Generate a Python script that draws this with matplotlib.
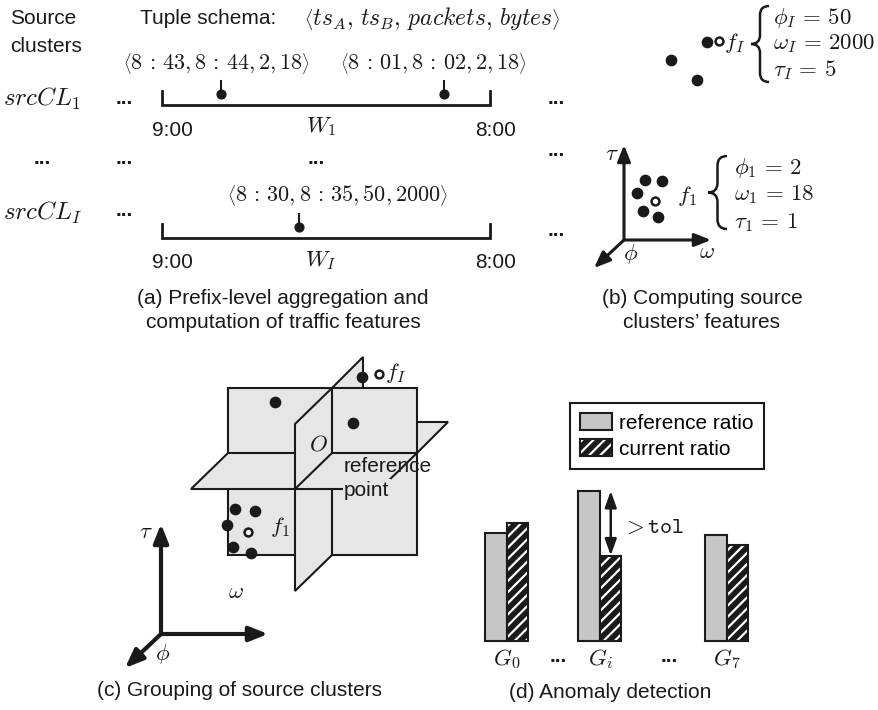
import matplotlib
matplotlib.use('Agg')
import matplotlib.pyplot as plt
from matplotlib.patches import Polygon, Patch
from matplotlib.path import Path
from matplotlib.patches import PathPatch
from matplotlib.legend_handler import HandlerTuple

plt.rcParams['font.family'] = ['Liberation Sans', 'DejaVu Sans']
plt.rcParams['mathtext.fontset'] = 'cm'
plt.rcParams['font.size'] = 15
plt.rcParams['hatch.linewidth'] = 1.6

INK = '#1a1a1a'
PLANE = '#e6e6e6'
REFGRAY = '#c6c6c6'
MATH = 16.5

# ---- data ----
# (a) tuples per source cluster
tuples_cl1 = [r'$\left\langle 8\,:\,43, 8\,:\,44, 2, 18\right\rangle$',
              r'$\left\langle 8\,:\,01, 8\,:\,02, 2, 18\right\rangle$']
tuples_cli = [r'$\left\langle 8\,:\,30, 8\,:\,35, 50, 2000\right\rangle$']
window_start = '9:00'
window_end = '8:00'

# (b) features of the two source clusters
feat_I = [r'$\phi_I \,=\, 50$', r'$\omega_I \,=\, 2000$', r'$\tau_I \,=\, 5$']
feat_1 = [r'$\phi_1 \,=\, 2$', r'$\omega_1 \,=\, 18$', r'$\tau_1 \,=\, 1$']
# scattered points in the feature space (diagram units)
pts_b_top_x = [707, 671, 697]
pts_b_top_y = [42, 60, 80]
pts_b_low_x = [645, 662, 637, 643, 658]
pts_b_low_y = [180, 181, 193, 211, 217]

# (c) points relative to the reference point planes
pts_c_x = [275, 353, 362, 235, 255, 227, 233, 251]
pts_c_y = [402, 423, 377, 509, 511, 525, 547, 553]

# (d) ratio per group
groups = ['$G_0$', '$G_i$', '$G_7$']
ref_ratio = [0.72, 1.00, 0.71]
cur_ratio = [0.79, 0.57, 0.64]


def brace(ax, x, y0, y1, w, lw=1.8):
    ym = (y0 + y1) / 2.0
    xs = x + w / 2.0
    xe = x + w
    r = w / 2.0
    verts = [(xe, y0), (xs, y0), (xs, y0 + r), (xs, ym - r),
             (xs, ym), (x, ym), (xs, ym), (xs, ym + r),
             (xs, y1 - r), (xs, y1), (xe, y1)]
    codes = [Path.MOVETO, Path.CURVE3, Path.CURVE3, Path.LINETO,
             Path.CURVE3, Path.CURVE3, Path.CURVE3, Path.CURVE3,
             Path.LINETO, Path.CURVE3, Path.CURVE3]
    ax.add_patch(PathPatch(Path(verts, codes), fill=False, lw=lw, ec=INK))


def arrow(ax, x0, y0, x1, y1, lw=2.2, ms=14, style='-|>'):
    ax.annotate('', xy=(x1, y1), xytext=(x0, y0),
                arrowprops=dict(arrowstyle=style + ',head_length=0.7,head_width=0.28',
                                lw=lw, color=INK, shrinkA=0, shrinkB=0,
                                mutation_scale=ms))


fig = plt.figure(figsize=(8.79, 7.10), dpi=100)
ax = fig.add_axes([0, 0, 1, 1])
ax.set_xlim(0, 879)
ax.set_ylim(710, 0)
ax.axis('off')

# ================= (a) =================
ax.text(10, 18, 'Source', va='center', color=INK)
ax.text(10, 46, 'clusters', va='center', color=INK)
ax.text(140, 18, 'Tuple schema:', va='center', color=INK)
ax.text(304, 18, r'$\left\langle ts_A,\, ts_B,\, packets,\, bytes\right\rangle$', va='center',
        color=INK, fontsize=17)

ax.text(3, 99, r'$srcCL_1$', va='center', color=INK, fontsize=18)
ax.text(3, 213, r'$srcCL_I$', va='center', color=INK, fontsize=18)

for (xd, yd) in [(124, 99), (124, 211), (42, 158), (124, 158), (316, 158),
                 (556, 99), (556, 150), (556, 230)]:
    ax.text(xd, yd, '...', ha='center', va='center', fontweight='bold', color=INK)

t_left, t_right = 162, 490

def timeline(y, pins, lab_x, labels, wlabel):
    ax.plot([t_left, t_left, t_right, t_right], [y - 14, y, y, y - 14], color=INK, lw=2.0,
            solid_joinstyle='miter')
    for px, lx, lab in zip(pins, lab_x, labels):
        ax.plot([px, px], [y - 24, y - 11], color=INK, lw=1.5)
        ax.scatter([px], [y - 11], s=40, color=INK, zorder=3)
        ax.text(lx, y - 42, lab, ha='center', va='center', color=INK, fontsize=16)
    ax.text(t_left + 10, y + 25, window_start, ha='center', va='center', color=INK)
    ax.text(t_right + 6, y + 25, window_end, ha='center', va='center', color=INK)
    ax.text(321, y + 22, wlabel, ha='center', va='center', color=INK, fontsize=MATH)

timeline(105, [221, 444], [216, 433], tuples_cl1, r'$W_1$')
timeline(238, [299], [338], tuples_cli, r'$W_I$')

ax.text(283, 298, '(a) Prefix-level aggregation and', ha='center', va='center', color=INK)
ax.text(283, 322, 'computation of traffic features', ha='center', va='center', color=INK)

# ================= (b) =================
ax.scatter(pts_b_top_x, pts_b_top_y, s=55, color=INK, zorder=3)
ax.scatter([719], [41], s=32, facecolor='white', edgecolor=INK, lw=1.8, zorder=3)
ax.text(724, 43, r'$f_I$', va='center', color=INK, fontsize=MATH)
brace(ax, 751, 6, 82, 18)
for i, t in enumerate(feat_I):
    ax.text(773, 18 + 26 * i, t, va='center', color=INK, fontsize=MATH)

arrow(ax, 624, 240, 624, 145)
arrow(ax, 624, 240, 711, 240)
arrow(ax, 624, 240, 594, 268)
ax.text(612, 153, r'$\tau$', ha='center', va='center', color=INK, fontsize=MATH)
ax.text(707, 252, r'$\omega$', ha='center', va='center', color=INK, fontsize=MATH)
ax.text(631, 254, r'$\phi$', ha='center', va='center', color=INK, fontsize=MATH)
ax.scatter(pts_b_low_x, pts_b_low_y, s=55, color=INK, zorder=3)
ax.scatter([655], [201], s=32, facecolor='white', edgecolor=INK, lw=1.8, zorder=3)
ax.text(677, 196, r'$f_1$', va='center', color=INK, fontsize=MATH)
brace(ax, 708, 156, 229, 19)
for i, t in enumerate(feat_1):
    ax.text(734, 168 + 27 * i, t, va='center', color=INK, fontsize=MATH)

ax.text(702, 298, '(b) Computing source', ha='center', va='center', color=INK)
ax.text(702, 322, u'clusters\u2019 features', ha='center', va='center', color=INK)

# ================= (c) =================
fx0, fy0, fx1, fy1 = 228, 388, 417, 555
hy, vx = 453, 332
fdx, fdy = -37, 36
bdx, bdy = 31, -31
planes = [
    [(fx0, hy), (fx1, hy), (fx1 + bdx, hy + bdy), (fx0 + bdx, hy + bdy)],
    [(vx, fy0), (vx + bdx, fy0 + bdy), (vx + bdx, fy1 + bdy), (vx, fy1)],
    [(fx0, fy0), (fx1, fy0), (fx1, fy1), (fx0, fy1)],
    [(vx, hy), (vx, fy1), (vx + fdx, fy1 + fdy), (vx + fdx, hy + fdy)],
    [(fx0, hy), (fx1, hy), (fx1 + fdx, hy + fdy), (fx0 + fdx, hy + fdy)],
    [(vx, fy0), (vx, hy), (vx + fdx, hy + fdy), (vx + fdx, fy0 + fdy)],
]
for k, p in enumerate(planes):
    ax.add_patch(Polygon(p, closed=True, fc=PLANE, ec=INK, lw=1.5,
                         joinstyle='miter', zorder=1 + k * 0.01))

ax.scatter(pts_c_x, pts_c_y, s=55, color=INK, zorder=3)
ax.scatter([379, 248], [374, 532], s=32, facecolor='white', edgecolor=INK, lw=1.8, zorder=3)
ax.text(385, 373, r'$f_I$', va='center', color=INK, fontsize=MATH)
ax.text(270, 527, r'$f_1$', va='center', color=INK, fontsize=MATH)
ax.text(318, 444, r'$O$', ha='center', va='center', color=INK, fontsize=MATH)
ax.text(344, 467, 'reference', va='center', color=INK, zorder=4)
ax.text(344, 490, 'point', va='center', color=INK, zorder=4,
        bbox=dict(fc=PLANE, ec='none', pad=1.0))

arrow(ax, 161, 634, 161, 524, lw=3, ms=16)
arrow(ax, 161, 634, 268, 634, lw=3, ms=16)
arrow(ax, 161, 634, 125, 668, lw=3, ms=16)
ax.text(146, 532, r'$\tau$', ha='center', va='center', color=INK, fontsize=MATH)
ax.text(236, 592, r'$\omega$', ha='center', va='center', color=INK, fontsize=MATH)
ax.text(163, 654, r'$\phi$', ha='center', va='center', color=INK, fontsize=MATH)

ax.text(240, 690, '(c) Grouping of source clusters', ha='center', va='center', color=INK)

# ================= (d) =================
bx0, bx1 = 470, 770
base_y, top_y = 641, 491
axb = fig.add_axes([bx0 / 879.0, (710 - base_y) / 710.0,
                    (bx1 - bx0) / 879.0, (base_y - top_y) / 710.0])
axb.set_xlim(bx0, bx1)
axb.set_ylim(0, 1)
axb.axis('off')
centers = [507, 600, 727]
bw = 21.5
ref_x = [c - bw / 2 for c in centers]
cur_x = [c + bw / 2 for c in centers]
axb.bar(ref_x, ref_ratio, width=bw, color=REFGRAY, edgecolor=INK, lw=1.5, clip_on=False)
axb.bar(cur_x, cur_ratio, width=bw, color=INK, edgecolor='white', hatch='///', lw=0, clip_on=False)
axb.bar(cur_x, cur_ratio, width=bw, fill=False, edgecolor=INK, lw=1.5, clip_on=False)
axb.annotate('', xy=(centers[1] + bw / 2, ref_ratio[1]), xytext=(centers[1] + bw / 2, cur_ratio[1]),
             arrowprops=dict(arrowstyle='<|-|>,head_length=0.7,head_width=0.25', lw=1.8,
                             color=INK, shrinkA=0, shrinkB=0, mutation_scale=14))

ax.text(622, 526, r'$>\mathtt{tol}$', va='center', color=INK, fontsize=MATH)
for c, g in zip(centers, groups):
    ax.text(c, 659, g, ha='center', va='center', color=INK, fontsize=MATH)
ax.text(558, 657, '...', ha='center', va='center', fontweight='bold', color=INK)
ax.text(669, 657, '...', ha='center', va='center', fontweight='bold', color=INK)

h_ref = Patch(fc=REFGRAY, ec=INK, lw=1.5)
h_cur = (Patch(fc=INK, ec='white', hatch='///', lw=0), Patch(fill=False, ec=INK, lw=1.5))
leg = ax.legend([h_ref, h_cur], ['reference ratio', 'current ratio'],
                handler_map={tuple: HandlerTuple(ndivide=1)},
                loc='upper left', bbox_to_anchor=(570, 403), bbox_transform=ax.transData,
                borderaxespad=0, fancybox=False, framealpha=1, edgecolor=INK,
                handlelength=1.5, handleheight=0.85, handletextpad=0.35,
                borderpad=0.5, labelspacing=0.3, fontsize=15)
leg.get_frame().set_linewidth(1.5)

ax.text(610, 693, '(d) Anomaly detection', ha='center', va='center', color=INK)

fig.savefig('out.png', dpi=100)
